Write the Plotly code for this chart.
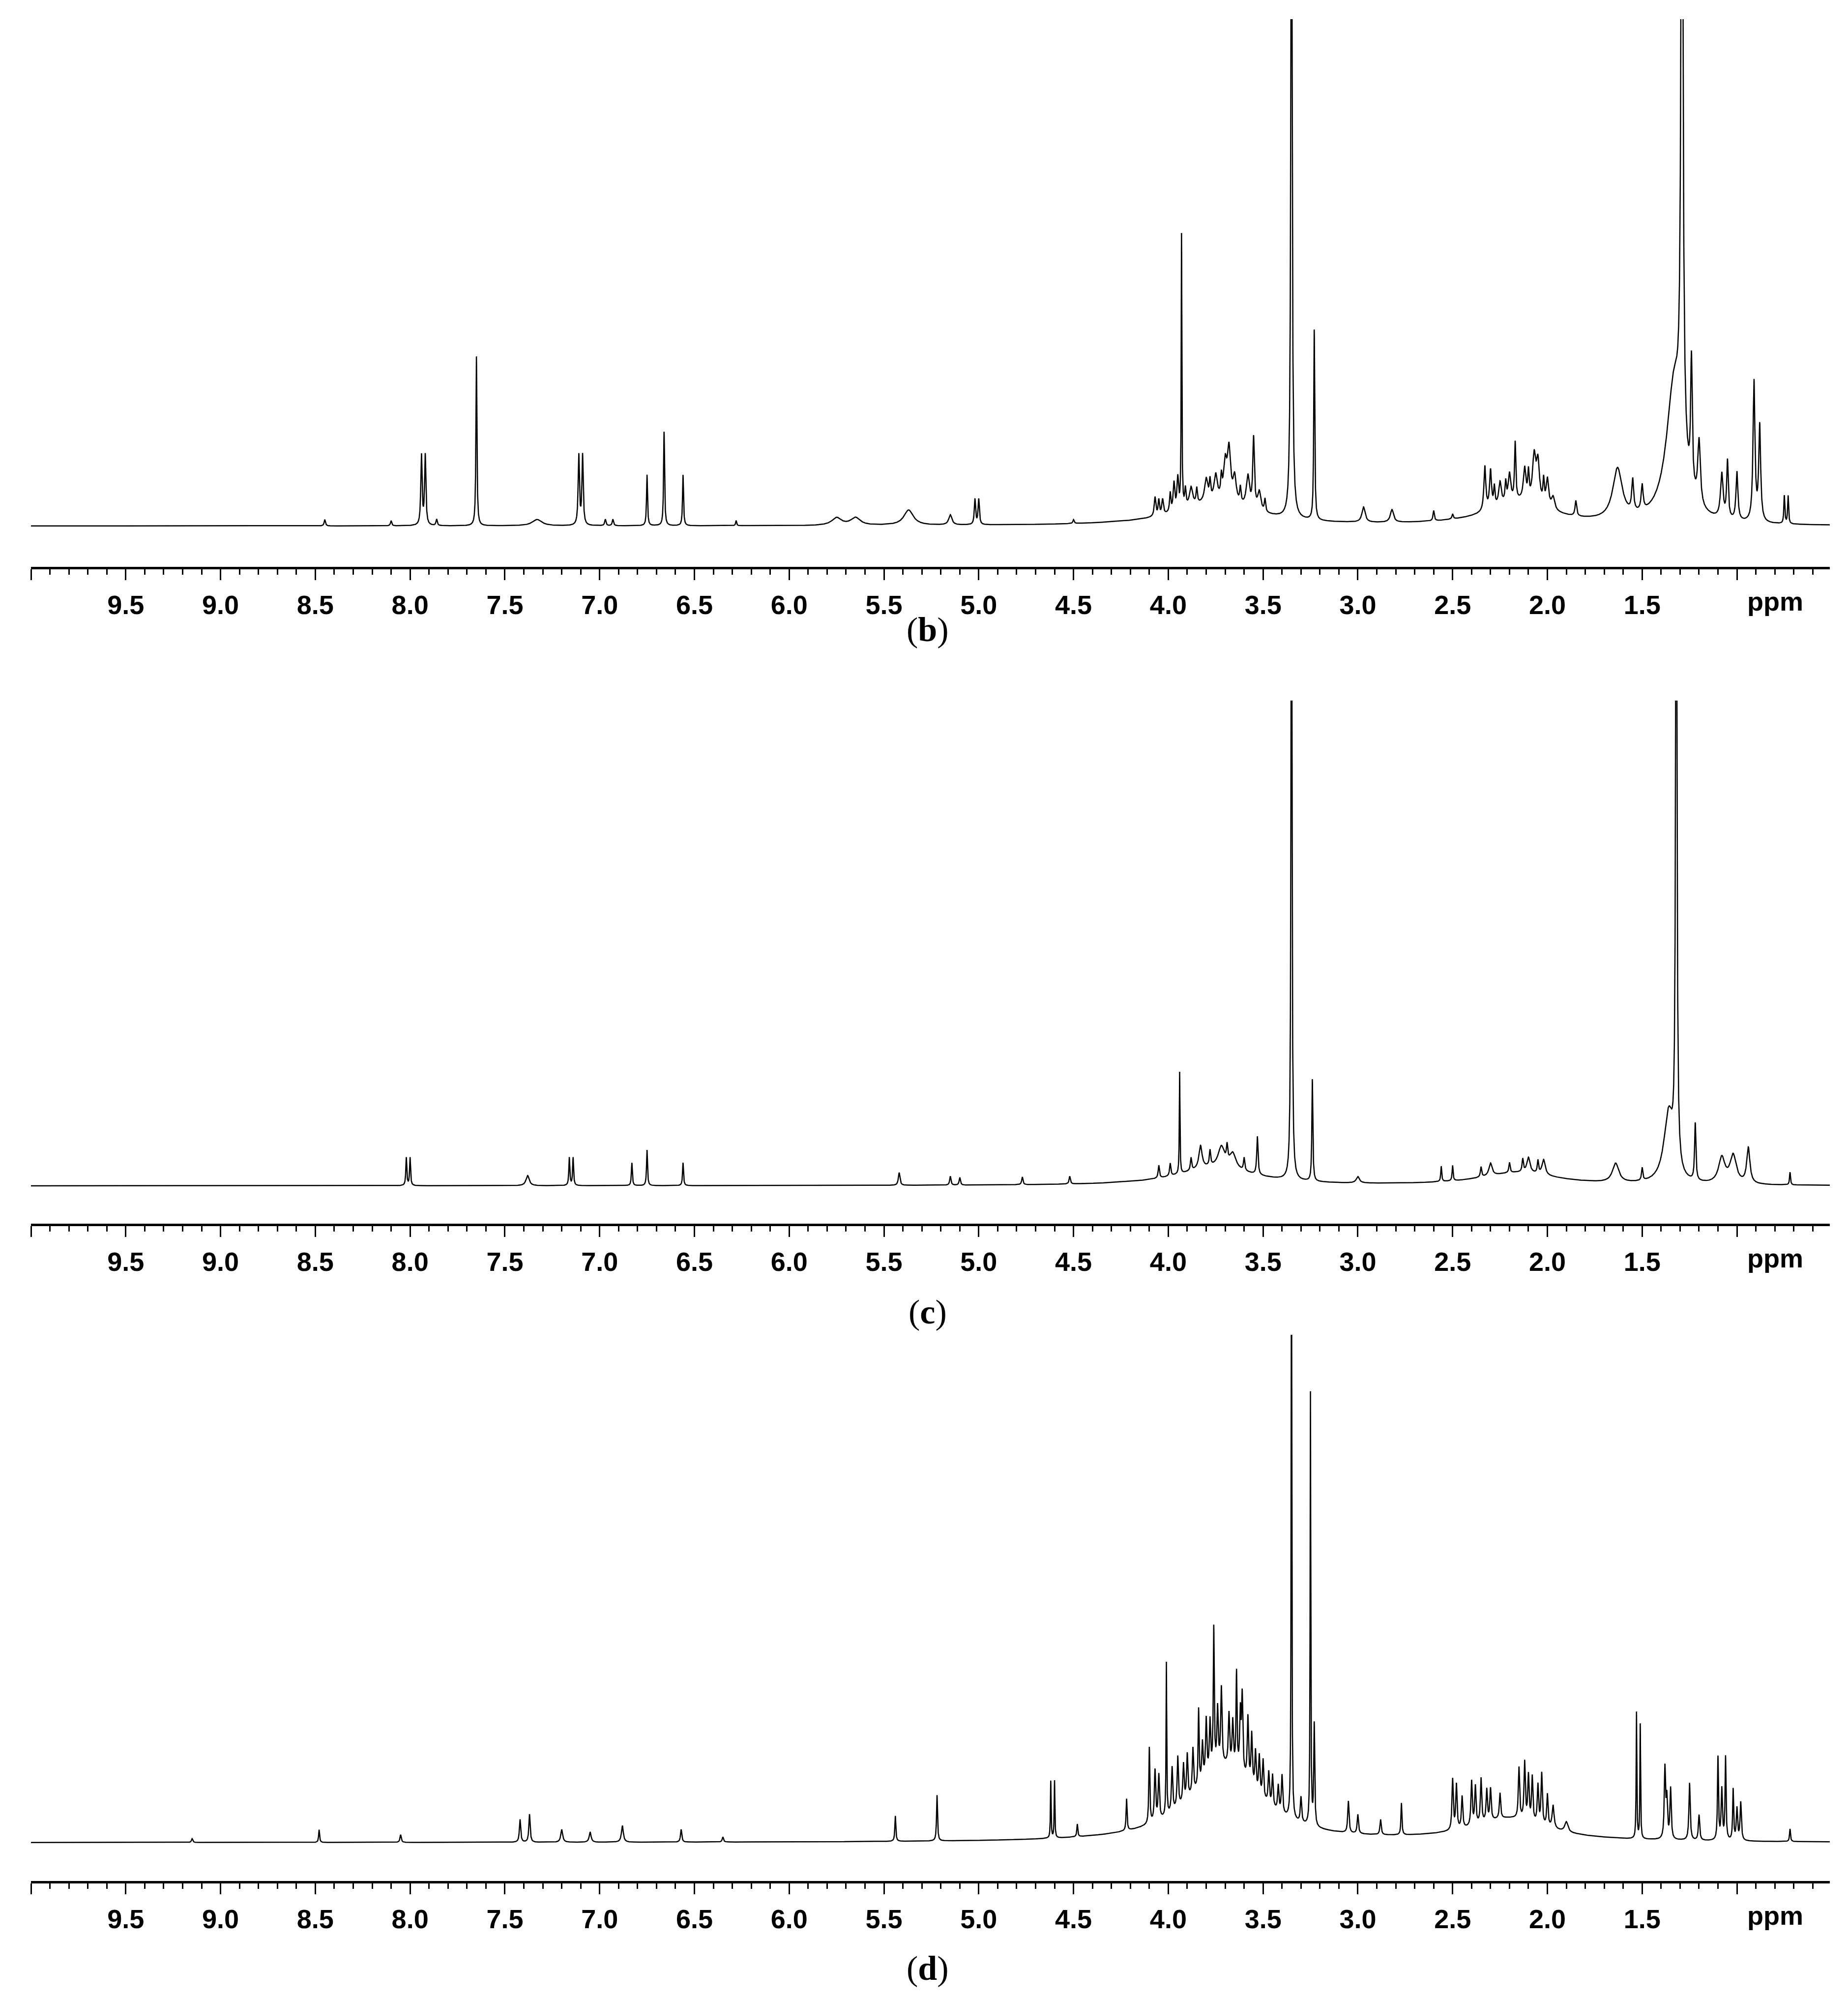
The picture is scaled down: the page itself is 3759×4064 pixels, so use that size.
import numpy as np
import plotly.graph_objects as go

# peak lists: position (ppm), height (px above baseline), half width (ppm)
b_ppm = [8.45, 8.10, 7.94, 7.92, 7.86, 7.65, 7.33, 7.11, 7.09, 6.97, 6.93, 6.75, 6.66, 6.56, 6.28,
         5.75, 5.65, 5.37, 5.15, 5.02, 5.00, 4.50, 3.75, 4.07, 4.03, 3.97, 3.95, 3.93, 3.88, 3.80,
         3.75, 3.70, 3.68, 3.65, 3.58, 3.55, 3.52, 3.35, 3.23, 2.97, 2.82, 2.60, 2.50, 2.15,
         2.33, 2.30, 2.25, 2.20, 2.17, 2.12, 2.07, 2.05, 2.00, 1.97, 1.85, 1.63, 1.55, 1.50,
         1.33, 1.29, 1.24, 1.20, 1.08, 1.05, 1.00, 0.91, 0.88, 0.75, 0.73,
         4.05, 3.99, 3.91, 3.85, 3.78, 3.72, 3.62, 3.49, 2.28, 2.22, 2.10, 2.02]
b_h = [5, 4, 55, 55, 5, 133, 5, 55, 55, 5, 5, 40, 74, 40, 4,
       6, 6, 12, 8, 20, 20, 3, 18, 15, 12, 22, 25, 215, 15, 18,
       20, 28, 40, 20, 25, 55, 15, 600, 150, 12, 10, 8, 4, 18,
       35, 30, 18, 22, 45, 25, 35, 32, 22, 10, 12, 40, 25, 20,
       110, 600, 100, 50, 35, 45, 38, 110, 75, 22, 22,
       12, 15, 14, 12, 14, 15, 12, 10, 15, 15, 20, 18]
b_w = [.004, .004, .004, .004, .004, .003, .03, .004, .004, .004, .004, .003, .003, .003, .003,
       .03, .03, .03, .01, .004, .004, .004, .25, .005, .005, .005, .005, .002, .01, .01,
       .01, .01, .01, .01, .01, .005, .01, .004, .003, .01, .01, .004, .004, .2,
       .006, .006, .008, .008, .004, .008, .01, .01, .008, .01, .005, .03, .006, .006,
       .05, .006, .005, .008, .008, .005, .006, .006, .006, .003, .003,
       .004, .004, .004, .004, .004, .004, .004, .004, .004, .004, .004, .004]

c_ppm = [8.02, 8.00, 7.38, 7.16, 7.14, 6.83, 6.75, 6.56, 5.42, 5.15, 5.10, 4.77, 4.52, 3.75,
         3.94, 3.83, 3.72, 3.66, 3.53, 3.35, 3.24, 3.00, 2.56, 2.50, 2.15, 2.30, 2.10, 2.02,
         1.64, 1.50, 1.36, 1.32, 1.22, 1.08, 1.02, 0.94, 0.72,
         4.05, 3.99, 3.88, 3.78, 3.69, 3.60, 2.35, 2.20, 2.13, 2.05]
c_h = [22, 22, 8, 22, 22, 18, 28, 18, 10, 7, 6, 6, 6, 14,
       80, 18, 16, 12, 30, 600, 80, 5, 12, 12, 10, 10, 12, 12,
       15, 10, 55, 600, 45, 20, 22, 28, 10,
       10, 10, 10, 12, 12, 10, 8, 8, 10, 10]
c_w = [.003, .003, .01, .003, .003, .003, .003, .003, .005, .004, .004, .004, .004, .25,
       .002, .01, .02, .02, .004, .003, .003, .01, .003, .003, .25, .01, .01, .01,
       .02, .004, .03, .004, .004, .02, .02, .01, .003,
       .004, .004, .004, .004, .004, .004, .004, .004, .004, .004]

d_ppm = [9.15, 8.48, 8.05, 7.42, 7.37, 7.20, 7.05, 6.88, 6.57, 6.35, 5.44, 5.22, 4.62, 4.60,
         4.48, 3.70, 4.22, 4.10, 4.05, 4.01, 3.95, 3.90, 3.84, 3.80, 3.76, 3.72, 3.68, 3.64,
         3.61, 3.58, 3.54, 3.50, 3.45, 3.40, 3.35, 3.25, 3.23, 3.05, 3.00, 2.88, 2.77, 2.20,
         2.50, 2.48, 2.40, 2.35, 2.30, 2.15, 2.12, 2.08, 2.03, 1.97, 1.90, 1.53, 1.51, 1.38,
         1.35, 1.25, 1.20, 1.10, 1.06, 1.02, 0.98, 0.72,
         4.07, 3.98, 3.92, 3.87, 3.82, 3.78, 3.74, 3.66, 3.62, 3.56, 3.52, 3.47, 3.42, 3.30,
         2.45, 2.38, 2.32, 2.25, 2.10, 2.05, 2.00, 1.37, 1.08, 1.00]
d_h = [3, 10, 6, 18, 22, 10, 8, 13, 10, 4, 20, 36, 45, 45,
       10, 60, 25, 60, 35, 120, 40, 35, 60, 45, 110, 60, 40, 75,
       60, 50, 30, 30, 25, 30, 500, 340, 80, 25, 15, 12, 25, 18,
       40, 35, 35, 35, 25, 40, 45, 35, 40, 18, 8, 100, 90, 55,
       40, 45, 20, 65, 65, 40, 30, 10,
       40, 35, 30, 35, 30, 40, 45, 35, 45, 40, 30, 25, 20, 20,
       25, 30, 25, 20, 35, 30, 25, 30, 40, 25]
d_w = [.004, .003, .004, .004, .004, .006, .006, .006, .004, .004, .003, .003, .002, .002,
       .003, .22, .003, .003, .004, .002, .004, .004, .003, .004, .003, .004, .004, .003,
       .004, .004, .004, .004, .004, .004, .002, .002, .003, .004, .004, .004, .003, .25,
       .004, .004, .004, .004, .004, .004, .004, .004, .004, .006, .01, .002, .002, .004,
       .004, .004, .004, .003, .003, .003, .004, .003,
       .004, .004, .004, .004, .004, .004, .004, .004, .004, .004, .004, .004, .004, .004,
       .004, .004, .004, .004, .004, .004, .004, .004, .004, .004]

panel_labels = ["b", "c", "d"]
major_ticks = [10.0, 9.5, 9.0, 8.5, 8.0, 7.5, 7.0, 6.5, 6.0, 5.5, 5.0, 4.5, 4.0, 3.5, 3.0, 2.5, 2.0, 1.5, 1.0]
major_text = [""] + ["%.1f" % t for t in major_ticks[1:-1]] + [""]

ppm = np.linspace(10.0, 0.51, 24000)


def spectrum(pos, hts, wid):
    y = np.zeros_like(ppm)
    for p, h, w in zip(pos, hts, wid):
        y += h * w ** 2 / ((ppm - p) ** 2 + w ** 2)
    return y


W, H = 3759, 4064
# pixel rows: top of plot, baseline, axis line, panel caption, full height in read units
rows = [(31, 1062, 1145, 1272, 398), (1417, 2404, 2481, 2660, 381), (2707, 3740, 3818, 3995, 399)]
series = [(b_ppm, b_h, b_w), (c_ppm, c_h, c_w), (d_ppm, d_h, d_w)]

fig = go.Figure()
for i, ((top, base, axis, cap, full), (p, h, w)) in enumerate(zip(rows, series)):
    n = "" if i == 0 else str(i + 1)
    fig.add_trace(go.Scatter(x=ppm, y=spectrum(p, h, w), mode="lines",
                             line=dict(color="black", width=2.5),
                             xaxis="x" + n, yaxis="y" + n, showlegend=False))
    fig.update_layout({
        "xaxis" + n: dict(domain=[55 / W, 3714 / W], range=[10.0, 0.51], anchor="y" + n,
                          showline=True, linecolor="black", linewidth=5, showgrid=False,
                          zeroline=False, ticks="outside", ticklen=22, tickwidth=3,
                          tickcolor="black", tickvals=major_ticks, ticktext=major_text,
                          ticklabelstandoff=4,
                          tickfont=dict(family="Liberation Sans", size=54, color="black",
                                        weight="bold"),
                          minor=dict(dtick=0.1, tick0=0, ticklen=11, tickwidth=3,
                                     tickcolor="black", ticks="outside")),
        "yaxis" + n: dict(domain=[1 - axis / H, 1 - top / H], anchor="x" + n,
                          range=[-(axis - base) / (base - top) * full, full],
                          visible=False, showgrid=False, zeroline=False),
    })
    fig.add_annotation(x=3662 / W, y=1 - (axis + 70) / H, xref="paper", yref="paper",
                       yanchor="middle", text="<b>ppm</b>", showarrow=False,
                       font=dict(family="Liberation Sans", size=54, color="black"))
    fig.add_annotation(x=1879 / W, y=1 - cap / H, xref="paper", yref="paper",
                       yanchor="middle", text="(<b>%s</b>)" % panel_labels[i], showarrow=False,
                       font=dict(family="Liberation Serif", size=70, color="black"))

fig.update_layout(width=W, height=H, margin=dict(l=0, r=0, t=0, b=0),
                  paper_bgcolor="white", plot_bgcolor="white")
fig.write_html("out.html")
